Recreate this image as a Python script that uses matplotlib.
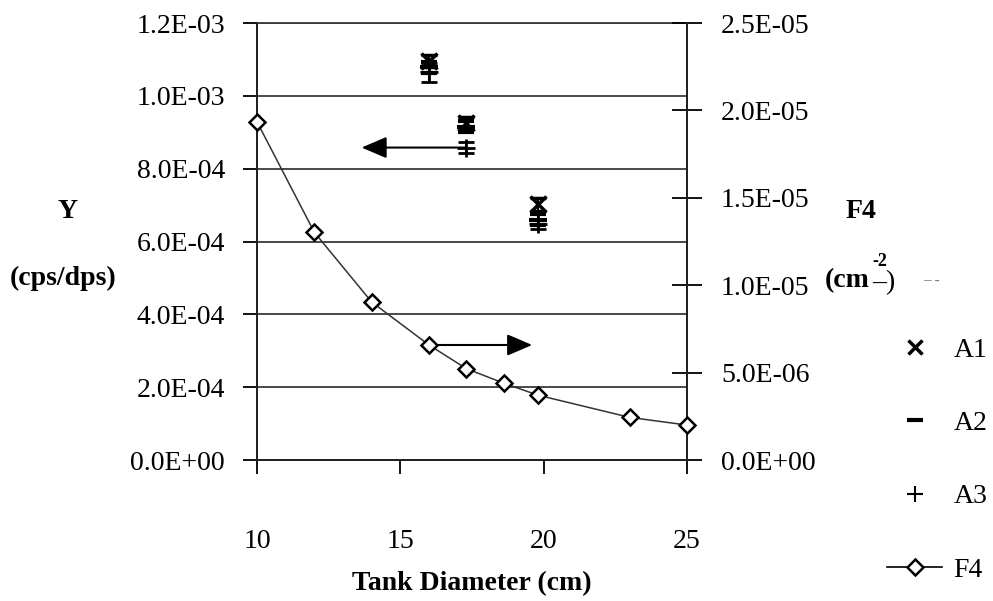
import matplotlib.pyplot as plt
from matplotlib.lines import Line2D
from matplotlib.ticker import FuncFormatter

plt.rcParams['font.family'] = ['Liberation Serif', 'DejaVu Serif']

# Tank diameters (cm) and F4 values (cm^-2), right axis
diam_f4 = [10, 12, 14, 16, 17.3, 18.6, 19.8, 23, 25]
f4 = [1.935e-5, 1.303e-5, 9.04e-6, 6.58e-6, 5.23e-6, 4.40e-6, 3.71e-6, 2.44e-6, 2.00e-6]

# Y values (cps/dps), left axis, with error
diam_a = [16, 17.3, 19.8]
a1 = [1.095e-3, 0.925e-3, 0.702e-3]
a1_err = [1.6e-5, 1.6e-5, 1.8e-5]
a2 = [1.078e-3, 0.915e-3, 0.660e-3]
a2_err = [1.5e-5, 1.5e-5, 1.5e-5]
a3 = [1.065e-3, 0.858e-3, 0.648e-3]
a3_err = [2.6e-5, 1.5e-5, 1.5e-5]

y_ticks = [0, 2e-4, 4e-4, 6e-4, 8e-4, 1.0e-3, 1.2e-3]
f4_ticks = [0, 5e-6, 1.0e-5, 1.5e-5, 2.0e-5, 2.5e-5]
x_ticks = [10, 15, 20, 25]

fig = plt.figure(figsize=(9.93, 6.01), dpi=100)
ax = fig.add_axes([0.2588, 0.2346, 0.4330, 0.7271])
ax2 = ax.twinx()

fmt = FuncFormatter(lambda v, p: f"{v:.1E}")

# A series with error bars
ax.errorbar(diam_a, a1, yerr=a1_err, fmt='x', color='black', ms=11, mew=2.5,
            ecolor='black', elinewidth=1.5, capsize=6, capthick=2, zorder=5)
ax.errorbar(diam_a, a2, yerr=a2_err, fmt='_', color='black', ms=13, mew=3,
            ecolor='black', elinewidth=1.5, capsize=6, capthick=2, zorder=5)
ax.errorbar(diam_a, a3, yerr=a3_err, fmt='+', color='black', ms=13, mew=2,
            ecolor='black', elinewidth=1.5, capsize=6, capthick=2, zorder=5)

# F4 curve
ax2.plot(diam_f4, f4, color='#333333', lw=1.1, marker='D', ms=8, mfc='white',
         mec='black', mew=1.8, zorder=5, clip_on=False)

ax.set_xlim(10, 25)
ax.set_ylim(0, 1.2e-3)
ax2.set_ylim(0, 2.5e-5)
ax.set_xticks(x_ticks)
ax.set_yticks(y_ticks)
ax2.set_yticks(f4_ticks)
ax.yaxis.set_major_formatter(fmt)
ax2.yaxis.set_major_formatter(fmt)

ax.grid(axis='y', color='#3a3a3a', lw=1.3)
ax.set_axisbelow(True)
ax2.spines['top'].set_visible(False)
ax.spines['top'].set_color('#3a3a3a')
ax.spines['top'].set_linewidth(1.3)
for a in (ax, ax2):
    for s in ['left', 'right', 'bottom']:
        a.spines[s].set_linewidth(1.4)
        a.spines[s].set_color('#222222')

ax.tick_params(axis='y', direction='out', length=10, width=1.3, pad=13, labelsize=20)
ax.tick_params(axis='x', direction='out', length=10, width=1.3, pad=40, labelsize=20)
ax2.tick_params(axis='y', direction='inout', length=21, width=1.3, pad=14, labelsize=20)

ax.set_xlabel('Tank Diameter (cm)', fontsize=20, fontweight='bold', labelpad=12)

# arrows pointing to the axes
ax.annotate('', xy=(13.65, a3[1]), xytext=(17.3, a3[1]),
            arrowprops=dict(arrowstyle='-|>,head_length=0.7,head_width=0.3',
                            mutation_scale=22, color='black', lw=1.5, shrinkA=0, shrinkB=0))
ax2.annotate('', xy=(19.6, f4[3]), xytext=(16, f4[3]),
             arrowprops=dict(arrowstyle='-|>,head_length=0.7,head_width=0.3',
                             mutation_scale=22, color='black', lw=1.5, shrinkA=0, shrinkB=0))

# axis titles
fig.text(67 / 993, 1 - 212 / 601, 'Y', fontsize=20, fontweight='bold', ha='center', va='center')
fig.text(63 / 993, 1 - 278 / 601, '(cps/dps)', fontsize=20, fontweight='bold', ha='center', va='center')
fig.text(861 / 993, 1 - 212 / 601, 'F4', fontsize=20, fontweight='bold', ha='center', va='center')
fig.text(825 / 993, 1 - 281 / 601, '(cm', fontsize=20, fontweight='bold', ha='left', va='center')
fig.text(872 / 993, 1 - 261 / 601, '-2', fontsize=13, fontweight='bold', ha='left', va='center')
fig.text(872 / 993, 1 - 283 / 601, '\u2013)', fontsize=20, ha='left', va='center')
fig.text(923 / 993, 1 - 281 / 601, '\u2013 -', fontsize=11, color='#777777', ha='left', va='center')

handles = [
    Line2D([], [], ls='none', marker='x', color='black', ms=10, mew=2.5),
    Line2D([], [], ls='none', marker='_', color='black', ms=12, mew=3),
    Line2D([], [], ls='none', marker='+', color='black', ms=12, mew=1.5),
    Line2D([], [], color='black', lw=1.2, marker='D', ms=8, mfc='white', mec='black', mew=1.8),
]
fig.legend(handles, ['A1', 'A2', 'A3', 'F4'], loc='center left',
           bbox_to_anchor=(873 / 993, 1 - 460 / 601), frameon=False, fontsize=20,
           handlelength=2.0, handletextpad=0.4, labelspacing=1.72, borderpad=0)

fig.savefig('out.png', dpi=100)
